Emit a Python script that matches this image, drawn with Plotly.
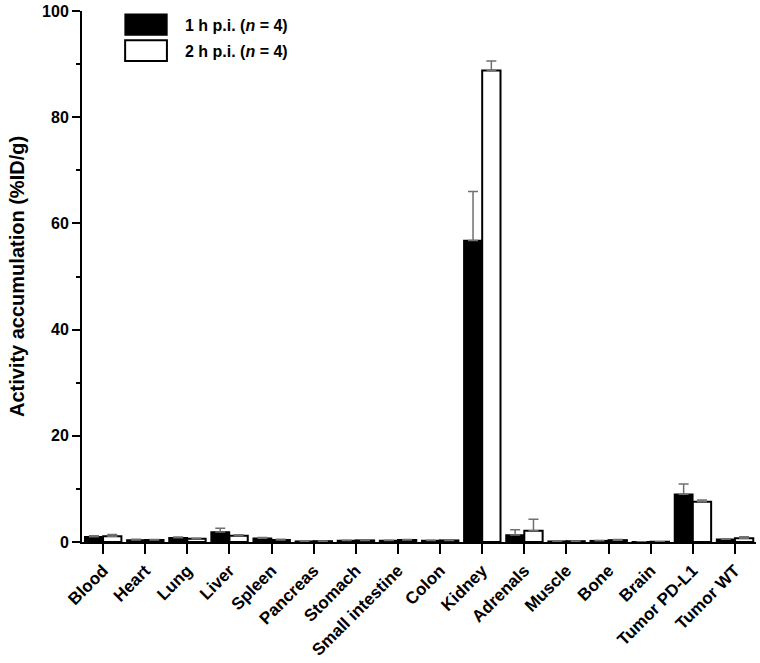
import plotly.graph_objects as go

organs = ['Blood', 'Heart', 'Lung', 'Liver', 'Spleen', 'Pancreas', 'Stomach',
          'Small intestine', 'Colon', 'Kidney', 'Adrenals', 'Muscle', 'Bone',
          'Brain', 'Tumor PD-L1', 'Tumor WT']

h1_mean = [1.0, 0.4, 0.8, 1.9, 0.7, 0.15, 0.3, 0.3, 0.3, 56.8, 1.3, 0.15, 0.25, 0.05, 9.0, 0.5]
h1_sd = [0.2, 0.1, 0.15, 0.7, 0.15, 0.05, 0.05, 0.05, 0.05, 9.2, 1.0, 0.05, 0.05, 0.02, 1.9, 0.1]
h2_mean = [1.1, 0.4, 0.6, 1.2, 0.4, 0.15, 0.3, 0.4, 0.3, 88.8, 2.1, 0.15, 0.35, 0.05, 7.6, 0.7]
h2_sd = [0.3, 0.05, 0.1, 0.15, 0.1, 0.05, 0.05, 0.05, 0.05, 1.8, 2.2, 0.05, 0.1, 0.02, 0.3, 0.3]

y_ticks = [0, 20, 40, 60, 80, 100]

font_family = 'Arial, Liberation Sans, sans-serif'

fig = go.Figure()
fig.add_trace(go.Bar(
    x=organs, y=h1_mean, name='1 h p.i.',
    marker=dict(color='black', line=dict(color='black', width=1.5)),
    error_y=dict(type='data', array=h1_sd, arrayminus=[0] * len(h1_sd),
                 symmetric=False, color='#707070', thickness=1.5, width=5),
    showlegend=False,
))
fig.add_trace(go.Bar(
    x=organs, y=h2_mean, name='2 h p.i.',
    marker=dict(color='white', line=dict(color='black', width=2)),
    error_y=dict(type='data', array=h2_sd, arrayminus=[0] * len(h2_sd),
                 symmetric=False, color='#707070', thickness=1.5, width=5),
    showlegend=False,
))

# legend drawn by hand to get the wide swatches
fig.add_shape(type='rect', xref='paper', yref='paper', x0=0.064, x1=0.126,
              y0=0.955, y1=0.994, fillcolor='black', line=dict(color='black', width=1.5))
fig.add_shape(type='rect', xref='paper', yref='paper', x0=0.064, x1=0.126,
              y0=0.906, y1=0.945, fillcolor='white', line=dict(color='black', width=2))
fig.add_annotation(xref='paper', yref='paper', x=0.15, y=0.9736, xanchor='left', yanchor='middle',
                   text='<b>1 h p.i. (<i>n</i> = 4)</b>', showarrow=False,
                   font=dict(size=16, color='black', family=font_family))
fig.add_annotation(xref='paper', yref='paper', x=0.15, y=0.9228, xanchor='left', yanchor='middle',
                   text='<b>2 h p.i. (<i>n</i> = 4)</b>', showarrow=False,
                   font=dict(size=16, color='black', family=font_family))

fig.update_layout(
    barmode='group',
    bargap=0.13,
    bargroupgap=0,
    width=760,
    height=663,
    margin=dict(l=82, r=4, t=11, b=121, autoexpand=False),
    plot_bgcolor='white',
    paper_bgcolor='white',
    font=dict(family=font_family, size=15, color='black'),
)
fig.update_xaxes(
    type='category',
    range=[-0.5, 15.5],
    automargin=False,
    showline=True, linecolor='black', linewidth=2,
    ticks='outside', ticklen=10, tickwidth=2, tickcolor='black',
    tickangle=-45,
    tickfont=dict(size=17, family=font_family, weight='bold', color='black'),
    showgrid=False, zeroline=False,
)
fig.update_yaxes(
    range=[0, 100],
    tickvals=y_ticks,
    automargin=False,
    showline=True, linecolor='black', linewidth=2,
    ticks='outside', ticklen=8, tickwidth=2, tickcolor='black',
    minor=dict(dtick=10, ticks='outside', ticklen=4, tickwidth=2, tickcolor='black'),
    tickfont=dict(size=16, family=font_family, weight='bold', color='black'),
    title=dict(text='<b>Activity accumulation (%ID/g)</b>',
               font=dict(size=20, family=font_family, color='black'), standoff=12),
    showgrid=False, zeroline=False,
)

# drop the browser's default body margin so the figure sits at the page corner
fig.write_html("out.html", config={'displayModeBar': False},
               post_script="document.body.style.margin='0';")
